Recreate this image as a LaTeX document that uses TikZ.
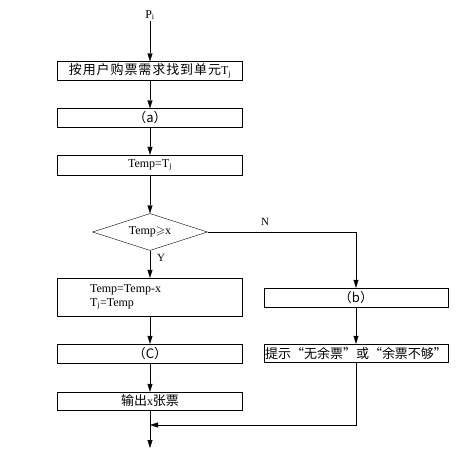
\documentclass[tikz,border=0pt]{standalone}
\usepackage{amssymb}
\usepackage{fontspec}
\setmainfont{Liberation Serif}
\newfontfamily\cjkbase{Noto Sans CJK SC}
\newfontfamily\cjkwide[LetterSpace=7]{Noto Sans CJK SC}
\newcommand{\cjk}{\cjkbase\fontsize{13}{15}\selectfont}
\newcommand{\cjkspaced}{\cjkwide\fontsize{13}{15}\selectfont}
\usetikzlibrary{shapes.geometric,arrows.meta}
\tikzset{
  stepbox/.style={draw, thin, rectangle, minimum width=185pt, minimum height=19pt, inner sep=1pt, font=\fontsize{12}{14}\selectfont},
  judge/.style={draw, thin, diamond, aspect=3.1, minimum width=115pt, minimum height=37pt, inner sep=0pt, font=\fontsize{12}{14}\selectfont},
  flow/.style={draw, thin, -{Triangle[length=8pt,width=5pt]}},
  tag/.style={font=\fontsize{11}{13}\selectfont, inner sep=1pt}
}
\begin{document}
\begin{tikzpicture}[x=1pt,y=-1pt]
    \useasboundingbox (0,0) rectangle (472,450);

    % 左边一列
    \node[tag, font=\fontsize{12}{14}\selectfont] (pi) at (150,15) {P\textsubscript{i}};
    \node[stepbox] (find) at (150,71) {{\cjkspaced 按用户购票需求找到单元}T\textsubscript{j}};
    \node[stepbox] (a) at (150,118) {{\cjk （a）}};
    \node[stepbox, minimum height=20pt] (temp) at (150,165) {Temp=T\textsubscript{j}};
    \node[judge] (cond) at (150,232) {Temp$\geqslant$x};
    \node[stepbox, minimum height=38pt, text width=120pt, align=left] (sub) at (150,297) {Temp=Temp-x\\T\textsubscript{j}=Temp};
    \node[stepbox] (c) at (150,353.5) {{\cjk （C）}};
    \node[stepbox, minimum height=18pt] (out) at (150,401) {{\cjk 输出}x{\cjk 张票}};

    % 右边一列
    \node[stepbox, minimum width=184pt] (b) at (356,297.5) {{\cjk （b）}};
    \node[stepbox, minimum width=184pt, minimum height=18pt] (hint) at (356,353) {\cjk 提示“无余票”或“余票不够”};

    \coordinate (turn) at (356,232);
    \coordinate (merge) at (150,425);
    \coordinate (last) at (150,448);

    % 连线
    \draw[flow] (pi) -- (find);
    \draw[flow] (find) -- (a);
    \draw[flow] (a) -- (temp);
    \draw[flow] (temp) -- (cond);
    \draw[flow] (cond) -- (sub);
    \draw[flow] (sub) -- (c);
    \draw[flow] (c) -- (out);
    \draw[flow] (out) -- (last);
    \draw[flow] (cond.east) -- (turn) -- (b);
    \draw[flow] (b) -- (hint);
    \draw[flow] (hint.south) |- (merge);

    % 标注
    \node[tag] (yes) at (161,258) {Y};
    \node[tag] (no) at (265,222) {N};

  \end{tikzpicture}
\end{document}
